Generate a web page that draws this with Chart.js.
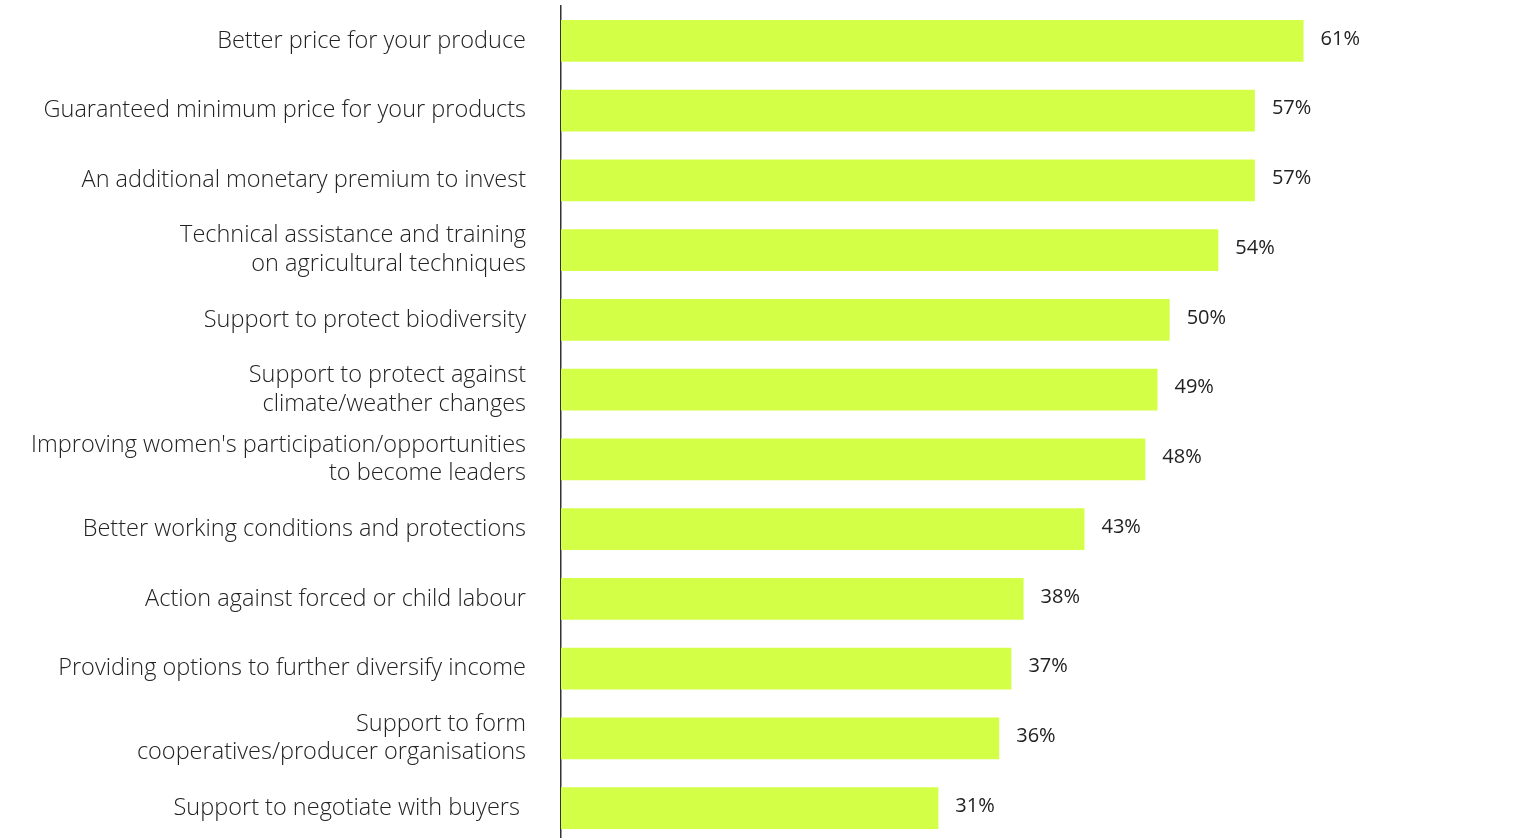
<!DOCTYPE html>
<html>
<head>
<meta charset="utf-8">
<script src="https://cdn.jsdelivr.net/npm/chart.js@4"></script>
<style>
    html, body { margin: 0; padding: 0; background: #fff; overflow: hidden; }
    #wrap { position: relative; width: 1517px; height: 850px; }
</style>
</head>
<body>
<div id="wrap"><canvas id="benefitChart"></canvas></div>
<script>
// Categories (multi-line labels as arrays)
const categories = [
    "Better price for your produce",
    "Guaranteed minimum price for your products",
    "An additional monetary premium to invest",
    ["Technical assistance and training", "on agricultural techniques"],
    "Support to protect biodiversity",
    ["Support to protect against", "climate/weather changes"],
    ["Improving women's participation/opportunities", "to become leaders"],
    "Better working conditions and protections",
    "Action against forced or child labour",
    "Providing options to further diversify income",
    ["Support to form", "cooperatives/producer organisations"],
    "Support to negotiate with buyers ",
];

// Share of respondents (%)
const values = [61, 57, 57, 54, 50, 49, 48, 43, 38, 37, 36, 31];

const barColor = "#d4ff47";
const textColor = "#222222";
const fontFamily = "'Open Sans', Roboto, sans-serif";

// Draw "xx%" right of each bar
const valueLabels = {
    id: "valueLabels",
    afterDatasetsDraw(chart) {
        const { ctx } = chart;
        const meta = chart.getDatasetMeta(0);
        ctx.save();
        ctx.font = "500 20px " + fontFamily;
        ctx.fillStyle = textColor;
        ctx.textBaseline = "middle";
        ctx.textAlign = "left";
        meta.data.forEach((bar, i) => {
            ctx.fillText(values[i] + "%", bar.x + 17, bar.y - 2);
        });
        ctx.restore();
    },
};

new Chart(document.getElementById("benefitChart"), {
    type: "bar",
    data: {
        labels: categories,
        datasets: [
            {
                data: values,
                backgroundColor: barColor,
                borderWidth: 0,
                barPercentage: 0.6,
                categoryPercentage: 1,
            },
        ],
    },
    options: {
        indexAxis: "y",
        responsive: true,
        maintainAspectRatio: false,
        animation: false,
        layout: {
            padding: { top: 6, bottom: 7, left: 0, right: 43 },
        },
        plugins: {
            legend: { display: false },
            tooltip: { enabled: false },
        },
        scales: {
            x: {
                display: false,
                min: 0,
                max: 75,
            },
            y: {
                afterFit(scale) {
                    scale.width = 561;
                    scale.paddingTop = 0;
                    scale.paddingBottom = 0;
                },
                grid: { display: false, drawTicks: false },
                border: { display: true, color: "#333333", width: 1.5 },
                ticks: {
                    padding: 35,
                    color: textColor,
                    font: { family: fontFamily, size: 23.5, weight: 300, lineHeight: 1.22 },
                },
            },
        },
    },
    plugins: [valueLabels],
});
</script>
</body>
</html>
